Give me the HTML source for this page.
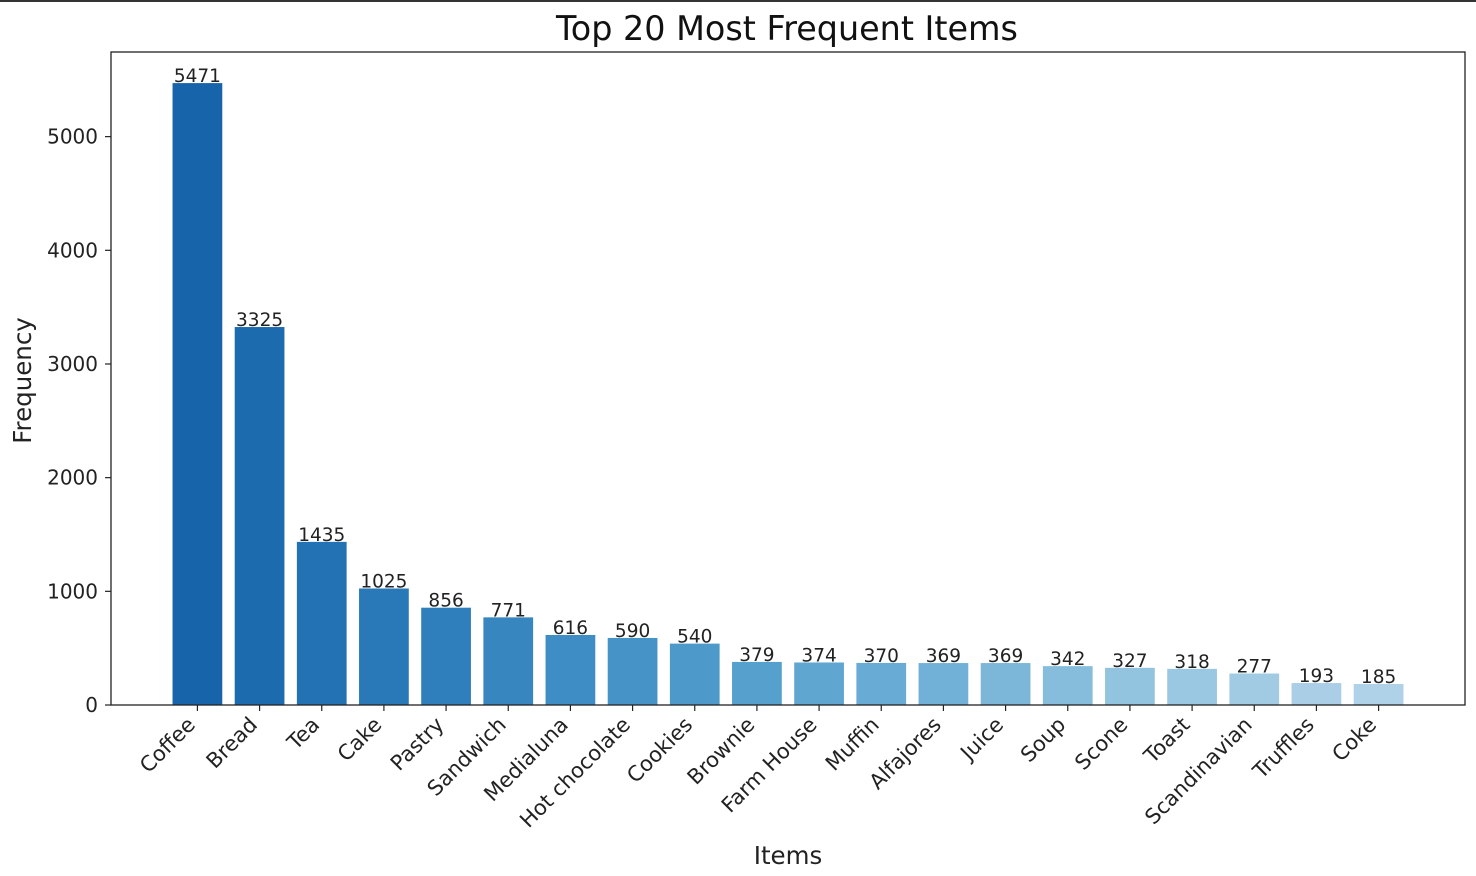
<!DOCTYPE html>
<html><head><meta charset="utf-8"><style>
html,body{margin:0;padding:0;background:#fff;}
svg{display:block;font-family:"DejaVu Sans","Liberation Sans",sans-serif;}
</style></head><body>
<svg id="chart" width="1476" height="876">
<rect x="0" y="0" width="1476" height="2" fill="#333"/>
</svg>
<script>
const categories=["Coffee","Bread","Tea","Cake","Pastry","Sandwich","Medialuna","Hot chocolate","Cookies","Brownie","Farm House","Muffin","Alfajores","Juice","Soup","Scone","Toast","Scandinavian","Truffles","Coke"];
const values=[5471,3325,1435,1025,856,771,616,590,540,379,374,370,369,369,342,327,318,277,193,185];
const yTicks=[0,1000,2000,3000,4000,5000];

const NS="http://www.w3.org/2000/svg";
const svg=document.getElementById('chart');
const L=111,R=1465,T=52,B=705;
const yMax=Math.max(...values)*1.05;
const n=categories.length;
const xMin=-0.4-0.05*(n-1+0.8),xMax=n-1+0.4+0.05*(n-1+0.8);
function xs(i){return L+(i-xMin)/(xMax-xMin)*(R-L);}
function ys(v){return B-v/yMax*(B-T);}
function mk(tag,attrs,parent){const e=document.createElementNS(NS,tag);for(const k in attrs)e.setAttribute(k,attrs[k]);(parent||svg).appendChild(e);return e;}
const stops=[[0.3,[176,210,232]],[0.4,[148,196,223]],[0.5,[107,174,214]],[0.6,[74,152,201]],[0.7,[46,126,188]],[0.8,[23,100,171]]];
function cmap(v){for(let k=0;k<stops.length-1;k++){const [a,ca]=stops[k],[b,cb]=stops[k+1];if(v<=b+1e-9){const t=(v-a)/(b-a);return `rgb(${ca.map((x,j)=>Math.round(x+(cb[j]-x)*t)).join(',')})`;}}return 'rgb(23,100,171)';}
const bw=(xs(1)-xs(0))*0.8;
categories.forEach((c,i)=>{
  const col=cmap(0.8-0.5*i/(n-1));
  const cx=xs(i);
  const r=mk('rect',{x:cx-bw/2,y:ys(values[i]),width:bw,height:B-ys(values[i]),fill:col});
  
  
  const lb=mk('text',{x:cx,y:ys(values[i])-1,'text-anchor':'middle','font-size':'18.5',fill:'#222'});
  lb.textContent=values[i];
  
  
  const tk=mk('line',{x1:cx,y1:B,x2:cx,y2:B+6,stroke:'#222','stroke-width':1.2});
  
  
  const tl=mk('text',{x:0,y:0,'text-anchor':'end','font-size':'21',fill:'#222',transform:`translate(${cx-1},${B+21}) rotate(-45)`});
  tl.textContent=c;
  
  
});
yTicks.forEach(v=>{
  const y=ys(v);
  const tk=mk('line',{x1:L-6,y1:y,x2:L,y2:y,stroke:'#222','stroke-width':1.2});
  
  
  const tl=mk('text',{x:L-13,y:y+7,'text-anchor':'end','font-size':'20',fill:'#222'});
  tl.textContent=v;
  
  
});
const fr=mk('rect',{x:L,y:T,width:R-L,height:B-T,fill:'none',stroke:'#222','stroke-width':1.3});


const ti=mk('text',{x:787,y:40,'text-anchor':'middle','font-size':'33.4',fill:'#111'});
ti.textContent='Top 20 Most Frequent Items';


const xl=mk('text',{x:(L+R)/2,y:864,'text-anchor':'middle','font-size':'24.5',fill:'#222'});
xl.textContent='Items';


const yl=mk('text',{x:0,y:0,'text-anchor':'middle','font-size':'24.5',fill:'#222',transform:`translate(31,${(T+B)/2+2}) rotate(-90)`});
yl.textContent='Frequency';


</script>
</body></html>
